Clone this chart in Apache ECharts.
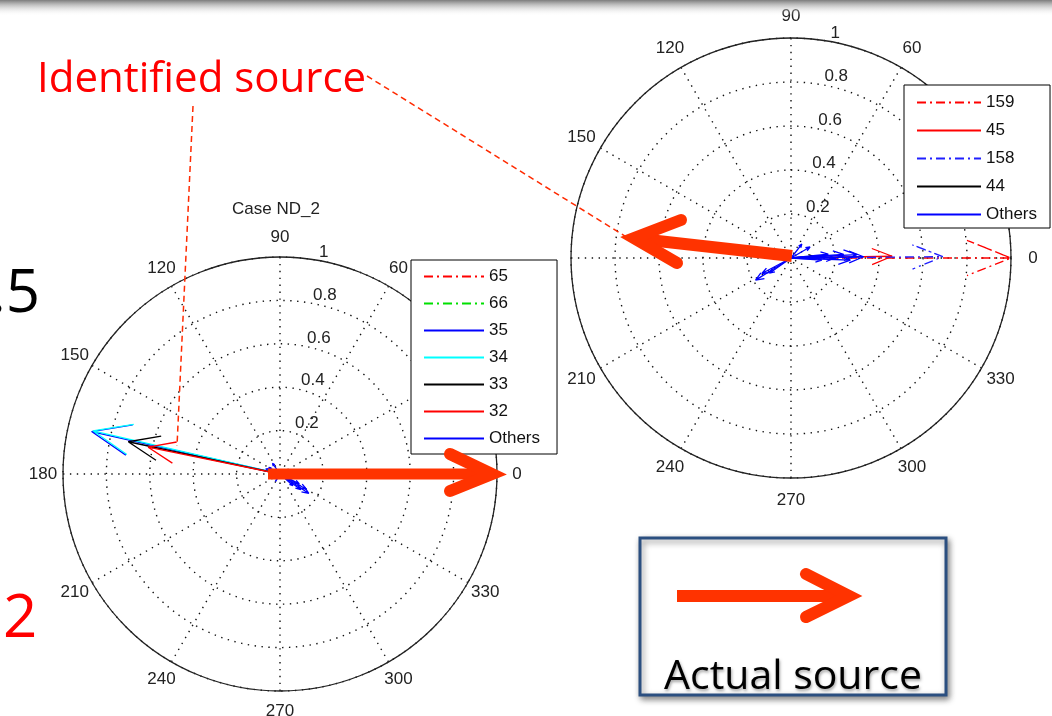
<!DOCTYPE html>
<html><head><meta charset="utf-8">
<script src="https://cdn.jsdelivr.net/npm/echarts@6/dist/echarts.min.js"></script>
<style>html,body{margin:0;padding:0;background:#fff}#c{width:1052px;height:716px}</style>
</head><body><div id="c"></div><script>
// ---------- data (magnitude 0..1, angle in degrees) ----------
const leftNames = ['65', '66', '35', '34', '33', '32'];
const leftMag = [1.0, 0.99, 0.89, 0.885, 0.715, 0.62];
const leftAng = [0.5, 0.0, 167.3, 167.0, 168.0, 168.5];
const leftOthersMag = [0.16, 0.14, 0.12, 0.10, 0.08, 0.06, 0.07, 0.05, 0.06, 0.04];
const leftOthersAng = [326, 330, 323, 333, 318, 150, 160, 200, 125, 240];

const rightNames = ['159', '45', '158', '44'];
const rightMag = [1.0, 0.46, 0.69, 0.10];
const rightAng = [0.0, 1.0, 0.5, 5.0];
const rightOthersMag = [0.33, 0.30, 0.27, 0.24, 0.20, 0.17, 0.14, 0.19, 0.15, 0.12, 0.08, 0.10];
const rightOthersAng = [1, 3, 358, 4, 0, 6, 356, 212, 208, 215, 52, 30];

const legendLeft = ['65', '66', '35', '34', '33', '32', 'Others'];
const legendRight = ['159', '45', '158', '44', 'Others'];
const caseTitle = 'Case ND_2';

// ---------- styles ----------
const DD = [9, 4, 2, 4];
const leftStyle = {
  '65': ['#FF0000', DD], '66': ['#00E000', DD], '35': ['#0000FF', 'solid'],
  '34': ['#00FFFF', 'solid'], '33': ['#000000', 'solid'], '32': ['#FF0000', 'solid']
};
const rightStyle = {
  '159': ['#FF0000', DD], '45': ['#FF0000', 'solid'], '158': ['#2020FF', DD], '44': ['#000000', 'solid']
};
const OTHERS_COLOR = '#0000FF';
const FONT = 'Liberation Sans';
const SLIDE_FONT = 'Open Sans';
const ORANGE = '#FF3300';
const DOT = { color: '#111', width: 1.4, type: [1.4, 5.5] };

function arrow(m, a) {
  const b = 0.80399 * m, d = 5.7106;
  return [[0, a], [m, a], [b, (a + d + 360) % 360], [m, a], [b, (a - d + 360) % 360]];
}
function mkSeries(name, m, a, pi, color, type) {
  return {
    type: 'line', name: name, coordinateSystem: 'polar', polarIndex: pi,
    data: arrow(m, a), symbol: 'none', showSymbol: false, silent: true,
    lineStyle: { color: color, width: 1.3, type: type }, itemStyle: { color: color },
    z: 3
  };
}
const series = [];
leftOthersMag.forEach((m, i) => series.push(mkSeries('Others', m, leftOthersAng[i], 0, OTHERS_COLOR, 'solid')));
leftNames.forEach((n, i) => series.push(mkSeries(n, leftMag[i], leftAng[i], 0, leftStyle[n][0], leftStyle[n][1])));
rightNames.forEach((n, i) => series.push(mkSeries(n, rightMag[i], rightAng[i], 2, rightStyle[n][0], rightStyle[n][1])));
rightOthersMag.forEach((m, i) => series.push(mkSeries('Others', m, rightOthersAng[i], 2, OTHERS_COLOR, 'solid')));

const LC = [280, 474], LR = 217;
const RC = [791, 258], RR = 220;

// per-angle label boxes so that every label is centred at a fixed distance outside the circle
function angleRich(off) {
  const rich = {};
  for (let v = 0; v < 360; v += 30) {
    const t = v * Math.PI / 180, ux = Math.abs(Math.cos(t)), uy = Math.abs(Math.sin(t));
    const s = { fontSize: 17, fontFamily: FONT, color: '#222', align: 'center' };
    if (ux >= 0.3) s.width = 2 * off * ux;
    if (uy >= 0.3) { s.lineHeight = 2 * off * uy; s.height = 2 * off * uy; }
    rich['a' + v] = s;
  }
  return rich;
}
function angleAxis(pi, hide180, off) {
  return {
    polarIndex: pi, type: 'value', min: 0, max: 360, interval: 30, startAngle: 0, clockwise: false,
    axisLine: { show: true, lineStyle: { color: '#222', width: 1.3 } },
    axisTick: { show: false },
    axisLabel: {
      show: true, margin: 0, color: '#222', fontSize: 17, fontFamily: FONT, rich: angleRich(off),
      formatter: v => (v === 360 || (hide180 && v === 180)) ? '' : '{a' + v + '|' + v + '}'
    },
    splitLine: { show: true, lineStyle: DOT }
  };
}
function labelAngleAxis(pi) {
  return { polarIndex: pi, type: 'value', min: 0, max: 360, startAngle: 82, clockwise: false, show: false };
}
function radiusAxis(pi) {
  return {
    polarIndex: pi, type: 'value', min: 0, max: 1, interval: 0.2,
    axisLine: { show: false }, axisTick: { show: false }, axisLabel: { show: false },
    splitLine: { show: true, lineStyle: DOT }
  };
}
function labelRadiusAxis(pi) {
  return {
    polarIndex: pi, type: 'value', min: 0, max: 1, interval: 0.2,
    axisLine: { show: false }, axisTick: { show: false }, splitLine: { show: false },
    axisLabel: {
      show: true, margin: -9, align: 'left', verticalAlign: 'bottom', color: '#222', fontSize: 17, fontFamily: FONT,
      formatter: v => v === 0 ? '' : (v === 1 ? '1' : v.toFixed(1))
    }
  };
}

function legend(data, left, top, iw, gap, pad) {
  return {
    data: data, orient: 'vertical', left: left, top: top, itemWidth: iw, itemHeight: 14, itemGap: gap,
    padding: pad, backgroundColor: '#fff', borderColor: '#000', borderWidth: 1, borderRadius: 0,
    selectedMode: false, z: 20,
    itemStyle: { opacity: 0, color: 'rgba(0,0,0,0)', borderWidth: 0 },
    textStyle: { fontSize: 17, color: '#111', fontFamily: FONT }
  };
}

const chart = echarts.init(document.getElementById('c'), null, { renderer: 'canvas' });
chart.setOption({
  animation: false,
  backgroundColor: '#fff',
  title: { text: caseTitle, left: 232, top: 201, padding: 0,
    textStyle: { fontSize: 17, fontWeight: 'normal', color: '#222', fontFamily: FONT } },
  polar: [
    { center: LC, radius: LR }, { center: LC, radius: LR },
    { center: RC, radius: RR }, { center: RC, radius: RR }
  ],
  angleAxis: [angleAxis(0, false, 20), labelAngleAxis(1), angleAxis(2, true, 22), labelAngleAxis(3)],
  radiusAxis: [radiusAxis(0), labelRadiusAxis(1), radiusAxis(2), labelRadiusAxis(3)],
  legend: [
    legend(legendLeft, 411, 260, 60, 10, [8, 17, 7, 12]),
    legend(legendRight, 904, 85, 64, 11, [9, 13, 5, 12])
  ],
  series: series,
  graphic: [
    { type: 'rect', z: 50, shape: { x: 0, y: 0, width: 1052, height: 16 },
      style: { fill: new echarts.graphic.LinearGradient(0, 0, 0, 1, [{ offset: 0, color: '#7c7c7c' }, { offset: 1, color: 'rgba(255,255,255,0)' }]) } },
    { type: 'text', z: 60, x: 37, y: 80, style: { text: 'Identified source', fill: '#FF0000', font: '42px "' + SLIDE_FONT + '"', verticalAlign: 'middle', align: 'left' } },
    { type: 'text', z: 60, x: 40, y: 295, style: { text: '.5', fill: '#000', font: '60px "' + SLIDE_FONT + '"', verticalAlign: 'middle', align: 'right' } },
    { type: 'text', z: 60, x: 3, y: 620, style: { text: '2', fill: '#FF0000', font: '60px "' + SLIDE_FONT + '"', verticalAlign: 'middle', align: 'left' } },
    { type: 'line', z: 60, shape: { x1: 367, y1: 76, x2: 628, y2: 238 }, style: { stroke: '#FF2A00', lineWidth: 1.5, lineDash: [6, 4] } },
    { type: 'line', z: 60, shape: { x1: 193, y1: 106, x2: 177, y2: 446 }, style: { stroke: '#FF2A00', lineWidth: 1.5, lineDash: [6, 4] } },
    // left big arrow
    { type: 'polyline', z: 70, shape: { points: [[268, 474], [490, 474]] }, style: { stroke: ORANGE, lineWidth: 11, lineCap: 'butt', fill: null } },
    { type: 'polyline', z: 70, shape: { points: [[450, 454], [492, 474], [450, 491]] }, style: { stroke: ORANGE, lineWidth: 12, lineCap: 'round', lineJoin: 'miter', fill: null } },
    // right big arrow
    { type: 'polyline', z: 70, shape: { points: [[792, 256], [640, 239]] }, style: { stroke: ORANGE, lineWidth: 12, lineCap: 'butt', fill: null } },
    { type: 'polyline', z: 70, shape: { points: [[681, 220], [634, 238], [677, 263]] }, style: { stroke: ORANGE, lineWidth: 12, lineCap: 'round', lineJoin: 'miter', fill: null } },
    // actual source box
    { type: 'rect', z: 40, shape: { x: 640, y: 538, width: 306, height: 157 },
      style: { fill: '#fff', stroke: '#2B4F80', lineWidth: 3, shadowBlur: 6, shadowColor: 'rgba(0,0,0,0.45)', shadowOffsetX: 2, shadowOffsetY: 3 } },
    { type: 'polyline', z: 70, shape: { points: [[677, 596], [846, 596]] }, style: { stroke: ORANGE, lineWidth: 12, lineCap: 'butt', fill: null } },
    { type: 'polyline', z: 70, shape: { points: [[806, 574], [849, 596], [806, 617]] }, style: { stroke: ORANGE, lineWidth: 12, lineCap: 'round', lineJoin: 'miter', fill: null } },
    { type: 'text', z: 70, x: 793, y: 677, style: { text: 'Actual source', fill: '#000', font: '41px "' + SLIDE_FONT + '"', align: 'center', verticalAlign: 'middle',
      textShadowColor: 'rgba(0,0,0,0.35)', textShadowBlur: 3, textShadowOffsetX: 1, textShadowOffsetY: 2 } }
  ]
});
</script></body></html>
